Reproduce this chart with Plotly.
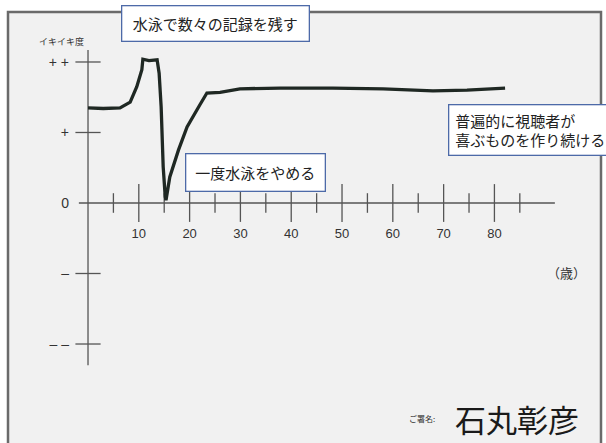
import plotly.graph_objects as go

# ---- data ----
ages = [0, 3, 6.3, 8.3, 9.6, 10.6, 10.8, 12.0, 13.6, 14.0, 14.4, 14.6, 14.8, 15.2, 15.35,
        16.1, 17.8, 19.5, 20.7, 22.0, 23.4, 26, 29.9, 37.8, 48.2, 58.1, 67.9, 74.6, 82.1]
ikiiki = [1.35, 1.34, 1.35, 1.43, 1.65, 1.89, 2.04, 2.02, 2.03, 1.84, 1.36, 0.65, 0.51, 0.09, 0.04,
          0.37, 0.75, 1.08, 1.22, 1.39, 1.56, 1.57, 1.62, 1.63, 1.63, 1.62, 1.59, 1.60, 1.63]

major_ticks = [10, 20, 30, 40, 50, 60, 70, 80]
minor_ticks = [5, 15, 25, 35, 45, 55, 65, 75, 85]
x_labels = ["10", "20", "30", "40", "50", "60", "70", "80"]

y_ticks = [2, 1, -1, -2]
y_label_vals = [2, 1, 0, -1, -2]
y_labels = ["+ +", "+", "0", "–", "– –"]

x_axis_extent = [-1.8, 91.9]
y_axis_extent = [2.17, -2.30]

notes = ["水泳で数々の記録を残す", "一度水泳をやめる", "普遍的に視聴者が<br>喜ぶものを作り続ける"]

# ---- figure ----
W, H = 606, 443
xr = [-15.75, 100.98]
yr = [-3.404, 2.709]
axis_col = "#555555"
cjk = "Noto Sans CJK JP"

fig = go.Figure()
# hand drawn axes
fig.add_trace(go.Scatter(x=x_axis_extent, y=[0, 0], mode="lines",
                         line=dict(color=axis_col, width=1.3), hoverinfo="skip"))
fig.add_trace(go.Scatter(x=[0, 0], y=y_axis_extent, mode="lines",
                         line=dict(color=axis_col, width=1.3), hoverinfo="skip"))
fig.add_trace(go.Scatter(x=major_ticks, y=[0] * len(major_ticks), mode="markers",
                         marker=dict(symbol="line-ns", size=27,
                                     line=dict(color=axis_col, width=1.3)), hoverinfo="skip"))
fig.add_trace(go.Scatter(x=minor_ticks, y=[0] * len(minor_ticks), mode="markers",
                         marker=dict(symbol="line-ns", size=14,
                                     line=dict(color=axis_col, width=1.3)), hoverinfo="skip"))
fig.add_trace(go.Scatter(x=[0] * len(y_ticks), y=y_ticks, mode="markers",
                         marker=dict(symbol="line-ew", size=18,
                                     line=dict(color=axis_col, width=1.3)), hoverinfo="skip"))
# life curve
fig.add_trace(go.Scatter(x=ages, y=ikiiki, mode="lines",
                         line=dict(color="#1f2823", width=3.3), hoverinfo="skip"))

x0frac = (0 - xr[0]) / (xr[1] - xr[0])
y0frac = (0 - yr[0]) / (yr[1] - yr[0])

fig.update_layout(
    width=W, height=H,
    margin=dict(l=8, r=5, t=12, b=0, autoexpand=False),
    paper_bgcolor="white",
    plot_bgcolor="#f1f1f1",
    showlegend=False,
    xaxis=dict(range=xr, showgrid=False, zeroline=False, showline=False,
               tickvals=major_ticks, ticktext=x_labels, ticks="",
               anchor="free", position=y0frac, ticklabelstandoff=21,
               tickfont=dict(family="Liberation Sans", size=13, color="#333333")),
    yaxis=dict(range=yr, showgrid=False, zeroline=False, showline=False,
               tickvals=y_label_vals, ticktext=y_labels, ticks="",
               anchor="free", position=x0frac, ticklabelstandoff=19,
               tickfont=dict(family="Liberation Sans", size=14, color="#333333")),
    shapes=[dict(type="rect", xref="paper", yref="paper", x0=0, x1=1, y0=-0.1, y1=1,
                 line=dict(color="#6a6a6a", width=2.5), layer="below")],
)

box_col = "#4d6aa8"
fig.add_annotation(x=25, y=2.54, text=notes[0], showarrow=False,
                   font=dict(family=cjk, size=15, color="#222222"),
                   bgcolor="white", bordercolor=box_col, borderwidth=1.3,
                   borderpad=0, width=186, height=34)
fig.add_annotation(x=32.9, y=0.43, text=notes[1], showarrow=False,
                   font=dict(family=cjk, size=15, color="#222222"),
                   bgcolor="white", bordercolor=box_col, borderwidth=1.3,
                   borderpad=0, width=138, height=36)
fig.add_annotation(x=70.9, y=1.04, text=notes[2], showarrow=False, xanchor="left",
                   align="left", font=dict(family=cjk, size=15, color="#222222"),
                   bgcolor="white", bordercolor=box_col, borderwidth=1.3,
                   borderpad=6, width=170, height=37)
fig.add_annotation(x=94.1, y=-0.99, text="（歳）", showarrow=False,
                   font=dict(family=cjk, size=13, color="#333333"))
fig.add_annotation(x=-5.2, y=2.29, text="イキイキ度", showarrow=False,
                   font=dict(family=cjk, size=9, color="#333333"))
fig.add_annotation(x=65.7, y=-3.05, text="ご署名:", showarrow=False,
                   font=dict(family=cjk, size=8, color="#333333"))
fig.add_annotation(x=84.4, y=-3.06, text="石丸彰彦", showarrow=False,
                   font=dict(family=cjk, size=31, color="#1a1a1a"))

fig.write_html("out.html", config={"displayModeBar": False},
               post_script="document.body.style.margin='0';document.body.style.overflow='hidden';")
